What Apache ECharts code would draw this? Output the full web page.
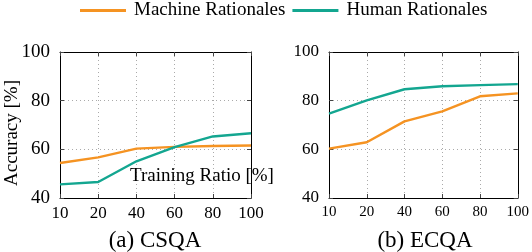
<!DOCTYPE html>
<html><head><meta charset="utf-8">
<script src="https://cdn.jsdelivr.net/npm/echarts@6/dist/echarts.min.js"></script>
<style>html,body{margin:0;padding:0;background:#fff}#c{width:532px;height:252px}</style>
</head><body><div id="c"></div>
<script>
const categories = ['10','20','40','60','80','100'];
const yTicks = [40, 60, 80, 100];
const csqaMachine = [54.4, 56.7, 60.3, 61.0, 61.4, 61.6];
const csqaHuman   = [45.6, 46.6, 55.1, 60.9, 65.3, 66.6];
const ecqaMachine = [60.3, 62.9, 71.5, 75.6, 81.8, 83.0];
const ecqaHuman   = [74.7, 80.1, 84.7, 85.9, 86.4, 86.8];
const seriesNames = ['Machine Rationales', 'Human Rationales'];
const captions = ['(a) CSQA', '(b) ECQA'];
const yTitle = 'Accuracy [%]';
const xTitle = 'Training Ratio [%]';

const ORANGE = '#f59322', TEAL = '#13a690';
const FONT = 'Liberation Serif';
const chart = echarts.init(document.getElementById('c'));

function xAx(grid, fs, pos) {
  const top = pos === 'top';
  return {
    type: 'category', data: categories, gridIndex: grid, boundaryGap: false, position: pos,
    axisLine: { show: true, lineStyle: { color: '#000', width: 1 } },
    axisTick: { show: true, inside: true, length: 4, lineStyle: { color: '#444' } },
    axisLabel: { show: !top, fontFamily: FONT, fontSize: fs, color: '#000', margin: 7 },
    splitLine: { show: !top, lineStyle: { type: [1, 3], color: '#aaa' } }
  };
}
function yAx(grid, fs, pos) {
  const right = pos === 'right';
  return {
    type: 'value', gridIndex: grid, min: 40, max: 100, interval: 20, position: pos,
    axisLine: { show: true, lineStyle: { color: '#000', width: 1 } },
    axisTick: { show: true, inside: true, length: 4, lineStyle: { color: '#444' } },
    axisLabel: { show: !right, fontFamily: FONT, fontSize: fs, color: '#000', margin: 10 },
    splitLine: { show: !right, lineStyle: { type: [1, 3], color: '#aaa' } }
  };
}
function line(name, data, color, xi, yi) {
  return { type: 'line', name, data, xAxisIndex: xi, yAxisIndex: yi, symbol: 'none',
    lineStyle: { color, width: 2.4 }, itemStyle: { color }, z: 5 };
}

chart.setOption({
  animation: false,
  legend: {
    data: seriesNames, left: 80, top: 1, padding: 0, itemWidth: 46, itemHeight: 3, itemGap: 7,
    icon: 'rect', textStyle: { fontFamily: FONT, fontSize: 19, color: '#000', padding: [0,0,0,3] }
  },
  grid: [
    { left: 60, width: 191, top: 52, height: 146 },
    { left: 329, width: 191, top: 52, height: 146 }
  ],
  xAxis: [xAx(0, 17, 'bottom'), xAx(1, 15, 'bottom'), xAx(0, 17, 'top'), xAx(1, 15, 'top')],
  yAxis: [yAx(0, 19, 'left'), yAx(1, 17, 'left'), yAx(0, 19, 'right'), yAx(1, 17, 'right')],
  series: [
    line(seriesNames[0], csqaMachine, ORANGE, 0, 0),
    line(seriesNames[1], csqaHuman, TEAL, 0, 0),
    line(seriesNames[0], ecqaMachine, ORANGE, 1, 1),
    line(seriesNames[1], ecqaHuman, TEAL, 1, 1)
  ],
  graphic: [
    { type: 'text', x: 12, y: 133, rotation: Math.PI / 2, z: 10,
      style: { text: yTitle, fontFamily: FONT, fontSize: 19, fill: '#000', textAlign: 'center', textVerticalAlign: 'middle' } },
    { type: 'text', x: 202, y: 176, z: 10,
      style: { text: xTitle, fontFamily: FONT, fontSize: 19, fill: '#000', textAlign: 'center', textVerticalAlign: 'middle' } },
    { type: 'text', x: 155, y: 241, z: 10,
      style: { text: captions[0], fontFamily: FONT, fontSize: 23, fill: '#000', textAlign: 'center', textVerticalAlign: 'middle' } },
    { type: 'text', x: 425, y: 241, z: 10,
      style: { text: captions[1], fontFamily: FONT, fontSize: 23, fill: '#000', textAlign: 'center', textVerticalAlign: 'middle' } }
  ]
});
</script></body></html>
